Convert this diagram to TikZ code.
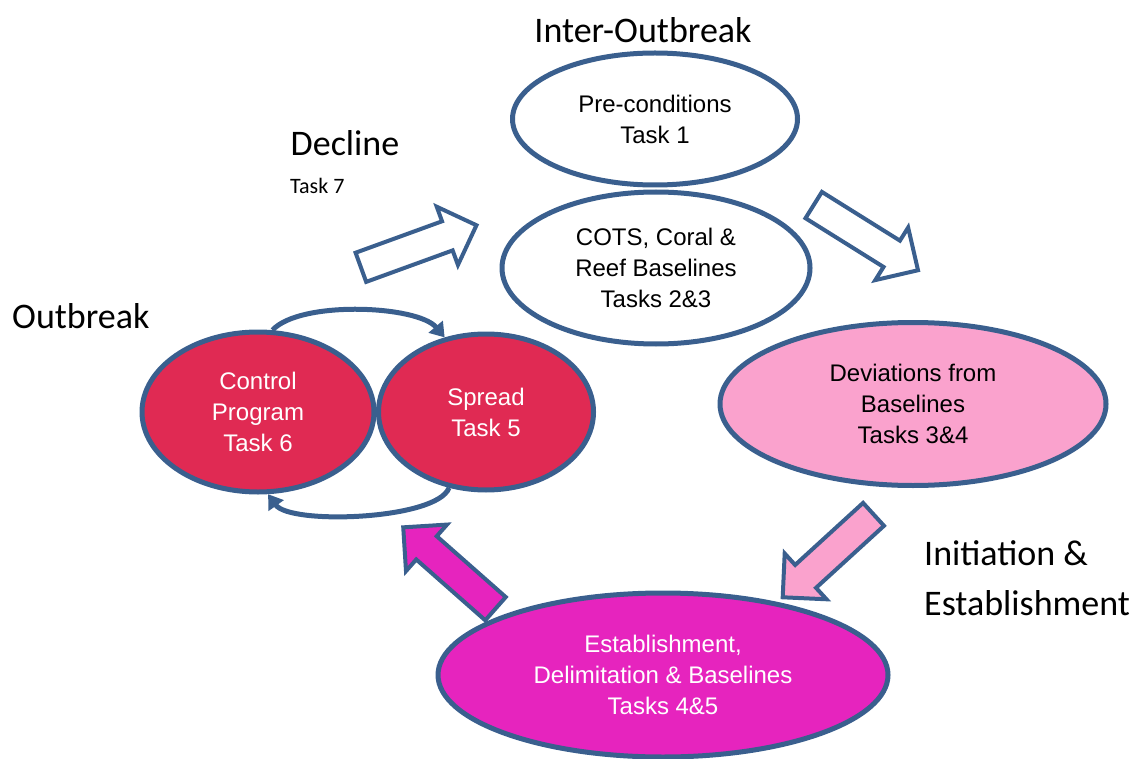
\documentclass[tikz,border=0pt]{standalone}
\usepackage{fontspec}
\setmainfont{Liberation Sans}
\newfontfamily\headfont{Carlito}
\usetikzlibrary{arrows.meta,shapes.geometric,shapes.arrows}
\definecolor{edgeblue}{HTML}{3A5F8E}
\definecolor{outred}{HTML}{E02A53}
\definecolor{devpink}{HTML}{FAA2CD}
\definecolor{estmag}{HTML}{E624BE}
\newcommand{\shaft}{\rule{0pt}{27pt}}
\tikzset{
  phase/.style={draw=edgeblue,line width=5pt,ellipse,inner sep=0pt,align=center,
    font=\fontsize{24}{31}\selectfont},
  title/.style={inner sep=0pt,font=\headfont\fontsize{36}{45}\selectfont},
  blockarrow/.style={draw=edgeblue,line width=4pt,single arrow,inner sep=0pt,
    minimum width=0pt,single arrow head extend=15.5pt,minimum height=123pt,anchor=tail},
  loopline/.style={draw=edgeblue,line width=5pt,-{Triangle[length=14pt,width=18pt]}},
}

\begin{document}
\begin{tikzpicture}[x=1pt,y=-1pt]
  \useasboundingbox (0,0) rectangle (1145,759);

  \node[phase,fill=white,minimum width=285pt,minimum height=132pt](pre) at (655,119) {Pre-conditions\\Task 1};
  \node[phase,fill=white,minimum width=308pt,minimum height=152pt](base) at (656,268) {COTS, Coral \&\\Reef Baselines\\Tasks 2\&3};
  \node[phase,fill=outred,text=white,minimum width=232pt,minimum height=160pt](ctrl) at (258,412) {Control\\Program\\Task 6};
  \node[phase,fill=outred,text=white,minimum width=215pt,minimum height=156pt](spread) at (486,412) {Spread\\Task 5};
  \node[phase,fill=devpink,minimum width=386pt,minimum height=163pt](dev) at (913,404) {Deviations from\\Baselines\\Tasks 3\&4};

  % block arrows round the cycle
  \node[blockarrow,fill=white,rotate=20](toinit) at (359,268) {\shaft};
  \node[blockarrow,fill=white,rotate=-32](todev) at (812,204) {\shaft};
  \node[blockarrow,fill=devpink,rotate=222.4](toest) at (875,513) {\shaft};
  \node[blockarrow,fill=estmag,rotate=138.6](toout) at (497,610) {\shaft};

  \node[phase,fill=estmag,text=white,minimum width=450pt,minimum height=164pt](est) at (663,675) {Establishment,\\Delimitation \& Baselines\\Tasks 4\&5};

  % control <-> spread
  \draw[loopline] (ctrl.80) .. controls +(28,-30) and +(-27,-32) .. (spread.119);
  \draw[loopline] (spread.244) .. controls +(-12,32) and +(22,31) .. (ctrl.277);

  \node[title,anchor=base](inter) at (643,43) {Inter-Outbreak};
  \node[title,anchor=base](decline) at (345,156) {Decline};
  \node[inner sep=0pt,font=\headfont\fontsize{22}{26}\selectfont,anchor=base west](task7) at (290,194) {Task 7};
  \node[title,anchor=base west](outb) at (12,328) {Outbreak};
  \node[title,anchor=base west](init) at (924,565) {Initiation \&};
  \node[title,anchor=base west](estab) at (924,615) {Establishment};
\end{tikzpicture}
\end{document}
